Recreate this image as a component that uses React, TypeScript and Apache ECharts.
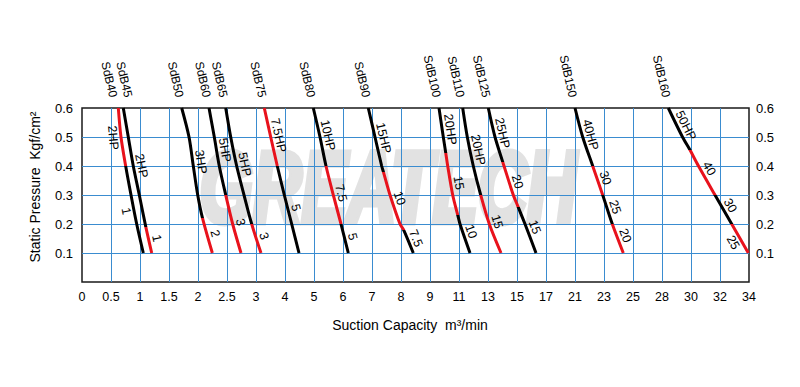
import React, { useEffect, useRef } from "react";
import * as echarts from "echarts";

// x axis is a stepped (non-linear) scale: equally spaced ticks with these values
const xTicks = [0, 0.5, 1, 1.5, 2, 2.5, 3, 4, 5, 6, 7, 8, 9, 11, 13, 15, 17, 21, 23, 25, 28, 30, 32, 34];
const yTicks = [0, 0.1, 0.2, 0.3, 0.4, 0.5, 0.6];

// Each curve: [flow m3/min, static pressure kgf/cm2]; breaks = point index where the motor changes
const SdB40 = { points: [[0.626, 0.6], [0.672, 0.5], [0.753, 0.4], [0.845, 0.3], [0.943, 0.2], [1.057, 0.1]], breaks: [2], motors: ["2HP", "1"] };
const SdB45 = { points: [[0.712, 0.6], [0.798, 0.5], [0.884, 0.4], [0.988, 0.3], [1.1, 0.19], [1.202, 0.1]], breaks: [4], motors: ["2HP", "1"] };
const SdB50 = { points: [[1.719, 0.6], [1.845, 0.5], [1.919, 0.4], [1.995, 0.3], [2.078, 0.22], [2.247, 0.1]], breaks: [4], motors: ["3HP", "2"] };
const SdB60 = { points: [[2.19, 0.6], [2.281, 0.5], [2.367, 0.4], [2.478, 0.3], [2.598, 0.2], [2.741, 0.1]], breaks: [3], motors: ["5HP", "3"] };
const SdB65 = { points: [[2.478, 0.6], [2.564, 0.5], [2.667, 0.4], [2.793, 0.3], [2.926, 0.2], [3.172, 0.1]], breaks: [4], motors: ["5HP", "3"] };
const SdB75 = { points: [[3.286, 0.6], [3.507, 0.5], [3.734, 0.4], [3.976, 0.3], [4.231, 0.2], [4.483, 0.1]], breaks: [2], motors: ["7.5HP", "5"] };
const SdB80 = { points: [[4.976, 0.6], [5.207, 0.5], [5.414, 0.4], [5.666, 0.3], [5.931, 0.2], [6.183, 0.1]], breaks: [2, 4], motors: ["10HP", "7.5", "5"] };
const SdB90 = { points: [[6.872, 0.6], [7.103, 0.5], [7.334, 0.4], [7.393, 0.38], [7.621, 0.3], [7.966, 0.2], [8.09, 0.18], [8.424, 0.1]], breaks: [3, 6], motors: ["15HP", "10", "7.5"] };
const SdB100 = { points: [[9.621, 0.6], [9.917, 0.5], [10.09, 0.444], [10.221, 0.4], [10.566, 0.3], [10.917, 0.23], [11.069, 0.2], [11.759, 0.1]], breaks: [2, 5], motors: ["20HP", "15", "10"] };
const SdB110 = { points: [[11.255, 0.6], [11.572, 0.5], [11.986, 0.4], [12.497, 0.3], [13.09, 0.2], [13.897, 0.1]], breaks: [3], motors: ["20HP", "15"] };
const SdB125 = { points: [[13.021, 0.6], [13.483, 0.5], [14.01, 0.415], [14.103, 0.4], [14.745, 0.3], [15.07, 0.26], [15.552, 0.2], [16.31, 0.1]], breaks: [2, 5], motors: ["25HP", "20", "15"] };
const SdB150 = { points: [[21.0, 0.6], [21.531, 0.5], [22.221, 0.4], [22.91, 0.3], [23.572, 0.2], [24.331, 0.1]], breaks: [2, 3, 4], motors: ["40HP", "30", "25", "20"] };
const SdB160 = { points: [[28.434, 0.6], [29.414, 0.5], [29.931, 0.455], [30.517, 0.4], [31.655, 0.3], [32.807, 0.2], [33.952, 0.1]], breaks: [2, 4, 5], motors: ["50HP", "40", "30", "25"] };

const models: [string, { points: number[][]; breaks: number[]; motors: string[] }][] = [
  ["SdB40", SdB40], ["SdB45", SdB45], ["SdB50", SdB50], ["SdB60", SdB60], ["SdB65", SdB65],
  ["SdB75", SdB75], ["SdB80", SdB80], ["SdB90", SdB90], ["SdB100", SdB100], ["SdB110", SdB110],
  ["SdB125", SdB125], ["SdB150", SdB150], ["SdB160", SdB160],
];

// styling (kept apart from the data)
const redFirst = ["SdB40", "SdB75"];
const labelsLeft = ["SdB40:0", "SdB40:1", "SdB160:3"];
const nameShift: Record<string, number> = { SdB40: -5, SdB45: 5 };
const RED = "#e8121c";
const BLACK = "#000000";
const FONT = "'Liberation Sans', Arial, Helvetica, sans-serif";

function toAxis(v: number): number {
  for (let i = 0; i < xTicks.length - 1; i++) {
    if (v <= xTicks[i + 1]) return i + (v - xTicks[i]) / (xTicks[i + 1] - xTicks[i]);
  }
  return xTicks.length - 1;
}

export default function App() {
  const ref = useRef<HTMLDivElement>(null);

  useEffect(() => {
    if (!ref.current) return;
    const chart = echarts.init(ref.current, undefined, { renderer: "svg" });

    const series: any[] = [];
    const visualMaps: any[] = [];
    const labelData: number[][] = [];
    const labelTexts: string[] = [];
    const nameData: number[][] = [];
    const nameTexts: string[] = [];

    models.forEach(([name, m], si) => {
      const bounds = [0, ...m.breaks, m.points.length - 1];
      const startRed = redFirst.includes(name);
      series.push({
        type: "line",
        name,
        data: m.points.map((p) => [toAxis(p[0]), p[1]]),
        smooth: 0.3,
        symbol: "none",
        silent: true,
        z: 3,
        lineStyle: { width: 3, cap: "butt" },
      });
      const pieces: any[] = [];
      for (let k = 0; k < bounds.length - 1; k++) {
        const seg = m.points.slice(bounds[k], bounds[k + 1] + 1);
        const isRed = (k + (startRed ? 1 : 0)) % 2 === 1;
        const hi = seg[0][1];
        const lo = seg[seg.length - 1][1];
        pieces.push(k === bounds.length - 2 ? { gte: -1, lte: hi, color: isRed ? RED : BLACK } : { gt: lo, lte: k === 0 ? 10 : hi, color: isRed ? RED : BLACK });
        // label at the middle pressure of the segment
        const ym = (hi + lo) / 2;
        let j = 0;
        while (j < seg.length - 2 && seg[j + 1][1] > ym) j++;
        const a = seg[j], b = seg[j + 1];
        const t = (a[1] - ym) / (a[1] - b[1]);
        const xa = toAxis(a[0]), xb = toAxis(b[0]);
        const side = labelsLeft.includes(name + ":" + k) ? -1 : 1;
        labelData.push([xa + (xb - xa) * t, ym, xa, a[1], xb, b[1], side]);
        labelTexts.push(m.motors[k]);
      }
      visualMaps.push({
        type: "piecewise",
        show: false,
        seriesIndex: si,
        dimension: 1,
        pieces,
      });
      const top = m.points[0];
      nameData.push([toAxis(top[0]), top[1], nameShift[name] ?? -2]);
      nameTexts.push(name);
    });

    series.push({
      type: "custom",
      coordinateSystem: "cartesian2d",
      clip: false,
      silent: true,
      z: 5,
      data: labelData,
      renderItem: (params: any, api: any) => {
        const d = labelData[params.dataIndex];
        const p = api.coord([d[0], d[1]]);
        const a = api.coord([d[2], d[3]]);
        const b = api.coord([d[4], d[5]]);
        const dx = b[0] - a[0], dy = b[1] - a[1];
        const len = Math.hypot(dx, dy) || 1;
        const off = 8 * d[6];
        return {
          type: "text",
          x: p[0] + (dy / len) * off,
          y: p[1] - (dx / len) * off,
          rotation: -Math.atan2(dy, dx),
          style: {
            text: labelTexts[params.dataIndex],
            fill: "#000",
            fontSize: 12.5,
            fontFamily: FONT,
            align: "center",
            verticalAlign: "middle",
          },
        };
      },
    });

    series.push({
      type: "custom",
      coordinateSystem: "cartesian2d",
      clip: false,
      silent: true,
      z: 5,
      data: nameData,
      renderItem: (params: any, api: any) => {
        const d = nameData[params.dataIndex];
        const p = api.coord([d[0], d[1]]);
        return {
          type: "text",
          x: p[0] + d[2],
          y: p[1] - 11,
          rotation: (-77 * Math.PI) / 180,
          style: {
            text: nameTexts[params.dataIndex],
            fill: "#000",
            fontSize: 12,
            fontFamily: FONT,
            align: "right",
            verticalAlign: "middle",
          },
        };
      },
    });

    const yFmt = (v: number) => (v === 0 ? "" : v.toFixed(1));

    chart.setOption({
      animation: false,
      backgroundColor: "#ffffff",
      textStyle: { fontFamily: FONT },
      visualMap: visualMaps,
      graphic: [
        {
          type: "text",
          x: 388,
          y: 188,
          z: -1,
          scaleX: 0.68,
          silent: true,
          style: {
            text: "GREATECH",
            fill: "#e2e2e2",
            stroke: "#e2e2e2",
            lineWidth: 7,
            fontStyle: "italic",
            fontWeight: "bold",
            fontSize: 100,
            fontFamily: FONT,
            align: "center",
            verticalAlign: "middle",
          },
        },
      ],
      grid: {
        left: 82,
        right: 51,
        top: 108,
        bottom: 105,
        show: true,
        borderColor: "#1a1a1a",
        borderWidth: 1.5,
        backgroundColor: "transparent",
      },
      xAxis: {
        type: "value",
        min: 0,
        max: xTicks.length - 1,
        interval: 1,
        name: "Suction Capacity  m³/min",
        nameLocation: "middle",
        nameGap: 36,
        nameTextStyle: { fontSize: 14, color: "#000", fontFamily: FONT, padding: [0, 11, 0, 0] },
        axisLine: { show: false },
        axisTick: { show: false },
        axisLabel: {
          margin: 8,
          fontSize: 12.5,
          color: "#000",
          fontFamily: FONT,
          formatter: (v: number) => String(xTicks[Math.round(v)]),
        },
        splitLine: { show: true, showMinLine: false, showMaxLine: false, lineStyle: { color: "#3a8cd0", width: 1 } },
      },
      yAxis: [
        {
          type: "value",
          min: yTicks[0],
          max: yTicks[yTicks.length - 1],
          interval: 0.1,
          name: "Static Pressure  Kgf/cm²",
          nameLocation: "middle",
          nameGap: 40,
          nameTextStyle: { fontSize: 14, color: "#000", fontFamily: FONT, padding: [0, 0, 0, 16] },
          axisLine: { show: false },
          axisTick: { show: false },
          axisLabel: { margin: 9, fontSize: 13, color: "#000", fontFamily: FONT, formatter: yFmt },
          splitLine: { show: true, showMinLine: false, showMaxLine: false, lineStyle: { color: "#3a8cd0", width: 1 } },
        },
        {
          type: "value",
          position: "right",
          min: yTicks[0],
          max: yTicks[yTicks.length - 1],
          interval: 0.1,
          axisLine: { show: false },
          axisTick: { show: false },
          axisLabel: { margin: 7, fontSize: 13, color: "#000", fontFamily: FONT, formatter: yFmt },
          splitLine: { show: false },
        },
      ],
      series,
    });

    return () => chart.dispose();
  }, []);

  return <div ref={ref} style={{ width: 800, height: 387, position: "absolute", left: 0, top: 0 }} />;
}
